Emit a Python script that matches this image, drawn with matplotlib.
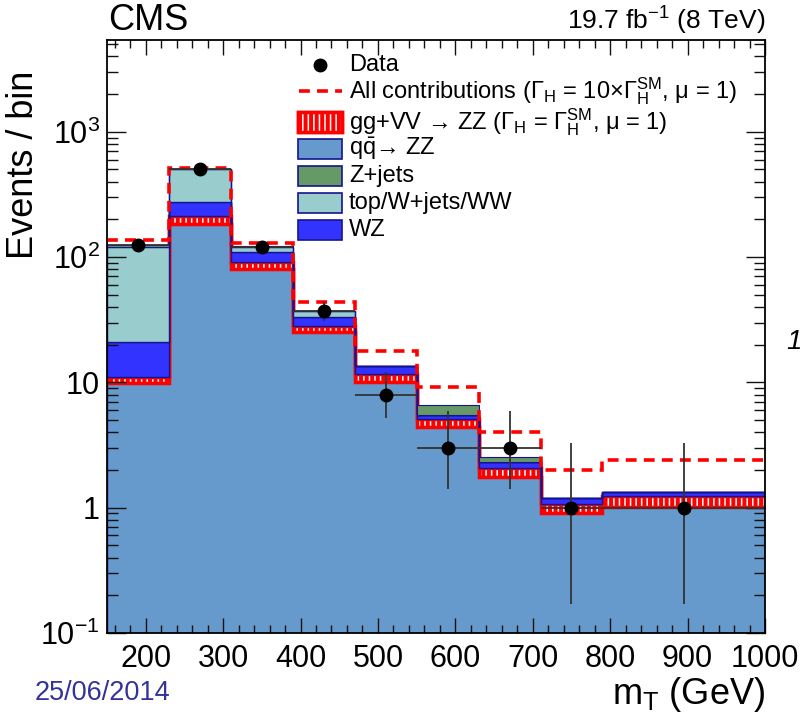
import numpy as np
import matplotlib
matplotlib.use("Agg")
import matplotlib.pyplot as plt
from matplotlib.patches import Rectangle
from matplotlib.lines import Line2D
from matplotlib.ticker import (FixedLocator, FixedFormatter, MultipleLocator,
                               LogLocator, NullFormatter)

plt.rcParams['font.family'] = ['Liberation Sans', 'DejaVu Sans']
plt.rcParams['mathtext.fontset'] = 'custom'
plt.rcParams['mathtext.rm'] = 'Liberation Sans'
plt.rcParams['mathtext.it'] = 'Liberation Sans:italic'
plt.rcParams['mathtext.bf'] = 'Liberation Sans:bold'
plt.rcParams['hatch.linewidth'] = 1.1

# binning in mT (GeV)
bin_edges = [150, 230, 310, 390, 470, 550, 630, 710, 790, 1000]

# expected events per bin, stacked bottom -> top
qqzz = [9.8, 184, 80, 25.4, 10.1, 4.4, 1.76, 0.91, 1.02]
ggvv = [1.2, 30, 10.6, 2.6, 1.5, 0.73, 0.32, 0.17, 0.23]
wz = [10, 59, 19, 5, 1.8, 0.41, 0.22, 0.12, 0.08]
top_wjets_ww = [100, 232, 11, 3.8, 0, 0, 0, 0, 0]
zjets = [3, 2, 1, 0.2, 0, 1.0, 0.25, 0, 0]

# total with Gamma_H = 10 x SM
all_contrib = [137, 514, 129, 44, 17.8, 9.2, 4.0, 2.01, 2.42]

# observed data and asymmetric poisson errors
data = [125, 500, 121, 37, 8, 3, 3, 1, 1]
data_err_lo = [11, 22, 11, 6.1, 2.8, 1.6, 1.6, 0.83, 0.83]
data_err_hi = [12, 23, 12, 7.1, 4.0, 2.9, 2.9, 2.3, 2.3]

y_ticks = [0.1, 1, 10, 100, 1000]
y_ticklabels = ['$10^{-1}$', '1', '10', '$10^{2}$', '$10^{3}$']

c_qqzz = '#6699cc'
c_wz = '#3333ff'
c_top = '#99cccc'
c_zjets = '#669966'
c_edge = '#141490'


def main():
    edges = np.array(bin_edges, dtype=float)
    centers = 0.5 * (edges[1:] + edges[:-1])
    halfw = 0.5 * (edges[1:] - edges[:-1])

    cum_qq = np.array(qqzz)
    cum_gg = cum_qq + np.array(ggvv)
    cum_wz = cum_gg + np.array(wz)
    cum_top = cum_wz + np.array(top_wjets_ww)
    cum_z = cum_top + np.array(zjets)

    fig = plt.figure(figsize=(8, 7.13), dpi=100)
    ax = fig.add_axes([107 / 800, 80 / 713, 658 / 800, 593 / 713])

    # stack
    ax.stairs(cum_qq, edges, baseline=1e-4, fill=True, facecolor=c_qqzz,
              edgecolor=c_edge, linewidth=1)
    ax.stairs(cum_gg, edges, baseline=cum_qq, fill=True, facecolor='red',
              edgecolor='red', linewidth=0)
    ax.stairs(cum_gg, edges, baseline=cum_qq, fill=True, facecolor='none',
              edgecolor='white', hatch='|||', linewidth=0)
    ax.stairs(cum_gg, edges, baseline=cum_qq, fill=False, color='red',
              linewidth=2.5)
    ax.stairs(cum_wz, edges, baseline=cum_gg, fill=True, facecolor=c_wz,
              edgecolor=c_edge, linewidth=1)
    ax.stairs(cum_top, edges, baseline=cum_wz, fill=True, facecolor=c_top,
              edgecolor=c_edge, linewidth=1)
    ax.stairs(cum_z, edges, baseline=cum_top, fill=True, facecolor=c_zjets,
              edgecolor=c_edge, linewidth=0.8)

    # Gamma_H = 10 x SM total
    ax.stairs(all_contrib, edges, baseline=None, fill=False, color='red',
              linestyle=(0, (3, 2)), linewidth=2.6, zorder=3)

    ax.errorbar(centers, data, yerr=[data_err_lo, data_err_hi], xerr=halfw,
                fmt='o', color='black', ecolor='#333333', elinewidth=1.3,
                ms=9, capsize=0, zorder=5)

    ax.set_yscale('log')
    ax.set_xlim(150, 1000)
    ax.set_ylim(0.1, 5400)
    ax.set_axisbelow(False)

    ax.xaxis.set_major_locator(MultipleLocator(100))
    ax.xaxis.set_minor_locator(MultipleLocator(20))
    ax.yaxis.set_major_locator(FixedLocator(y_ticks))
    ax.yaxis.set_major_formatter(FixedFormatter(y_ticklabels))
    ax.yaxis.set_minor_locator(LogLocator(base=10, subs=np.arange(2, 10)))
    ax.yaxis.set_minor_formatter(NullFormatter())

    ax.tick_params(axis='both', which='both', direction='in', top=True,
                   right=True, width=1, color='#111111')
    ax.tick_params(axis='x', which='major', length=11, labelsize=22, pad=8)
    ax.tick_params(axis='x', which='minor', length=6)
    ax.tick_params(axis='y', which='major', length=14, labelsize=22, pad=5)
    ax.tick_params(axis='y', which='minor', length=8)
    for sp in ax.spines.values():
        sp.set_linewidth(1.3)
        sp.set_zorder(6)

    ax.set_ylabel('Events / bin', fontsize=26)
    ax.yaxis.set_label_coords(-0.1, 0.79)
    ax.set_xlabel(r'm$_{\rm T}$ (GeV)', fontsize=26, ha='right')
    ax.xaxis.set_label_coords(1.0, -0.07)

    # legend drawn by hand, ROOT style
    def axx(px):
        return (px - 107) / 658.0

    def axy(py):
        return (633 - py) / 593.0

    rows = [65, 91, 122, 149, 176, 203, 230]
    labels = ['Data',
              r'All contributions ($\Gamma_{\rm H}$ = 10$\times\Gamma_{\rm H}^{\rm SM}$, μ = 1)',
              r'gg+VV → ZZ ($\Gamma_{\rm H}$ = $\Gamma_{\rm H}^{\rm SM}$, μ = 1)',
              r'q$\bar{\rm q}$→ ZZ',
              'Z+jets',
              'top/W+jets/WW',
              'WZ']
    for py, lab in zip(rows, labels):
        ax.text(axx(349), axy(py), lab, transform=ax.transAxes, fontsize=17,
                va='center', ha='left', zorder=7)

    ax.add_line(Line2D([axx(320)], [axy(rows[0])], marker='o', ms=9,
                       color='black', transform=ax.transAxes, zorder=7))
    ax.add_line(Line2D([axx(299), axx(342)], [axy(rows[1])] * 2,
                       color='red', linestyle=(0, (3, 2)), linewidth=2.6,
                       transform=ax.transAxes, zorder=7))
    bw = axx(342) - axx(298)
    bh = 20 / 593.0
    box_styles = [
        dict(facecolor='red', edgecolor='red', lw=2.5),
        dict(facecolor=c_qqzz, edgecolor=c_edge, lw=1.2),
        dict(facecolor=c_zjets, edgecolor=c_edge, lw=1.2),
        dict(facecolor=c_top, edgecolor=c_edge, lw=1.2),
        dict(facecolor=c_wz, edgecolor=c_edge, lw=1.2),
    ]
    for py, st in zip(rows[2:], box_styles):
        ax.add_patch(Rectangle((axx(298), axy(py) - bh / 2), bw, bh,
                               transform=ax.transAxes, zorder=7, **st))
    ax.add_patch(Rectangle((axx(298), axy(rows[2]) - bh / 2), bw, bh,
                           transform=ax.transAxes, zorder=7, facecolor='none',
                           edgecolor='white', hatch='|||', lw=0))
    ax.add_patch(Rectangle((axx(298), axy(rows[2]) - bh / 2), bw, bh,
                           transform=ax.transAxes, zorder=7, facecolor='none',
                           edgecolor='red', lw=2.5))

    fig.text(108 / 800, 1 - 30 / 713, 'CMS', fontsize=26, va='baseline',
             ha='left')
    fig.text(765 / 800, 1 - 30 / 713, r'19.7 fb$^{-1}$ (8 TeV)', fontsize=19,
             va='baseline', ha='right')
    fig.text(35 / 800, 1 - 700 / 713, '25/06/2014', fontsize=19.5,
             color='#333399', va='baseline', ha='left')
    fig.text(786 / 800, 1 - 342 / 713, '1', fontsize=20, style='italic',
             va='center', ha='left')

    fig.savefig('out.png', dpi=100)
    plt.close(fig)


if __name__ == "__main__":
    main()
